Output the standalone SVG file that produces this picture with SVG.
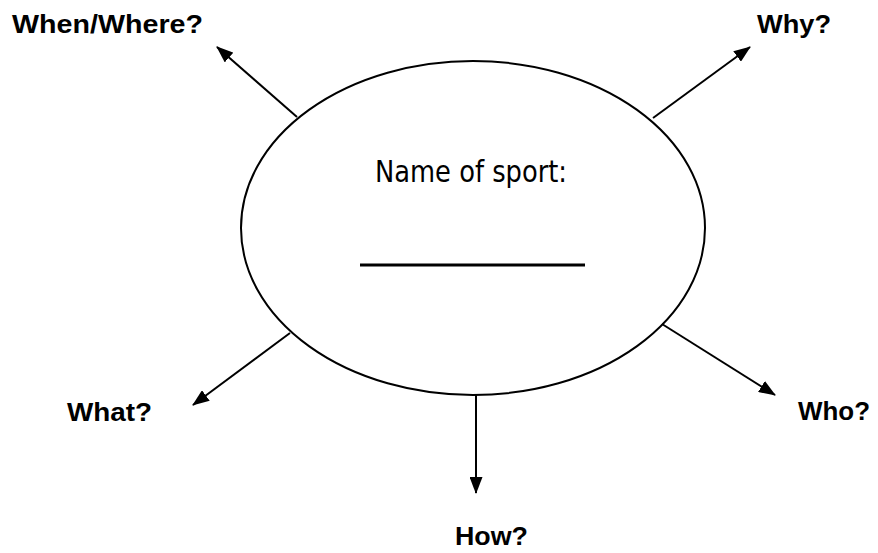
<svg xmlns="http://www.w3.org/2000/svg" width="878" height="553" viewBox="0 0 878 553">
<style>
.lbl{font-family:"Liberation Sans",Arial,sans-serif;font-weight:bold;font-size:26px;fill:#000}
.conn line{stroke:#000;stroke-width:2;marker-end:url(#ah)}
</style>
<defs>
<marker id="ah" viewBox="0 0 17 13" refX="16" refY="6.5" markerUnits="userSpaceOnUse" markerWidth="17" markerHeight="13" orient="auto">
<path d="M0,0 L17,6.5 L0,13 Z" fill="#000"/>
</marker>
</defs>
<rect width="878" height="553" fill="#fff"/>
<g id="center">
<ellipse cx="473" cy="228" rx="232" ry="167" fill="#fff" stroke="#000" stroke-width="2"/>
<text x="471" y="182" text-anchor="middle" font-family="DejaVu Sans,sans-serif" font-size="30" textLength="192" lengthAdjust="spacingAndGlyphs">Name of sport:</text>
<line x1="360" y1="265" x2="585" y2="265" stroke="#000" stroke-width="3"/>
</g>
<g class="conn" id="connectors">
<line x1="297" y1="117" x2="217" y2="47"/>
<line x1="653" y1="118" x2="750" y2="47"/>
<line x1="290" y1="333" x2="193" y2="405"/>
<line x1="662" y1="324" x2="775" y2="395"/>
<line x1="476" y1="395" x2="476" y2="493"/>
</g>
<g id="when"><text class="lbl" x="12" y="33" textLength="191" lengthAdjust="spacingAndGlyphs">When/Where?</text></g>
<g id="why"><text class="lbl" x="757" y="33" textLength="74" lengthAdjust="spacingAndGlyphs">Why?</text></g>
<g id="what"><text class="lbl" x="67" y="421" textLength="85" lengthAdjust="spacingAndGlyphs">What?</text></g>
<g id="who"><text class="lbl" x="798" y="420" textLength="72" lengthAdjust="spacingAndGlyphs">Who?</text></g>
<g id="how"><text class="lbl" x="455" y="545" textLength="73" lengthAdjust="spacingAndGlyphs">How?</text></g>
</svg>
